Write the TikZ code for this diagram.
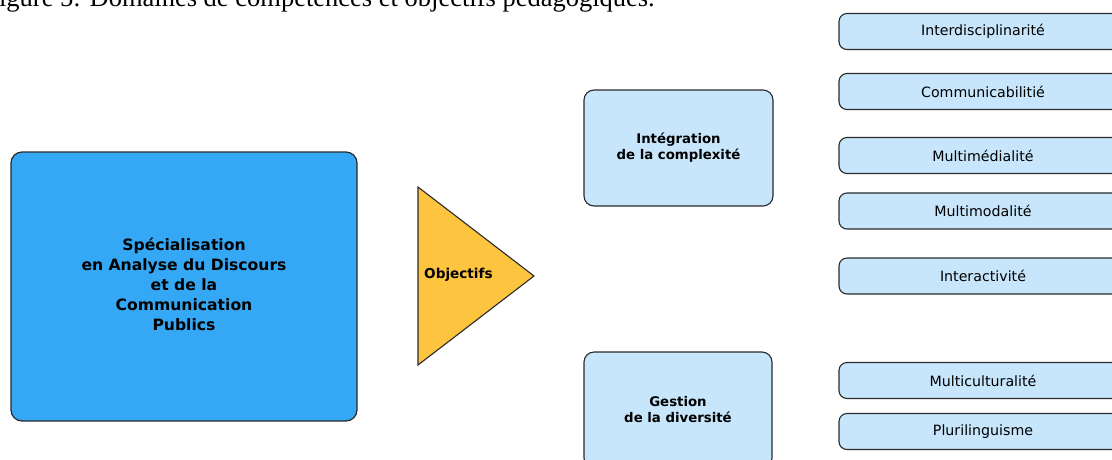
\documentclass[tikz,border=0pt]{standalone}
\usepackage{fontspec}
\setmainfont{DejaVu Sans}
\newfontfamily\capfont{Liberation Serif}
\usetikzlibrary{shapes.geometric}
\definecolor{bigblue}{HTML}{35A8F5}
\definecolor{lightblue}{HTML}{C7E6FB}
\definecolor{tri}{HTML}{FDC43F}
\definecolor{edge}{HTML}{2A2A2A}
\tikzset{
  bigbox/.style={draw=edge, line width=1.2pt, fill=bigblue, rounded corners=11pt, inner sep=0pt, align=center,
     font=\fontsize{15.6}{20}\selectfont\bfseries},
  midbox/.style={draw=edge, line width=1.1pt, fill=lightblue, rounded corners=10pt, inner sep=0pt, align=center,
     font=\fontsize{13.3}{16}\selectfont\bfseries},
  itembox/.style={draw=edge, line width=1.1pt, fill=lightblue, rounded corners=8pt, inner sep=0pt,
     minimum width=288pt, minimum height=36pt, font=\fontsize{14.2}{16}\selectfont},
  trishape/.style={draw=edge, line width=1.1pt, fill=tri},
}
\begin{document}
\begin{tikzpicture}[x=1pt,y=-1pt]
\useasboundingbox (0,0) rectangle (1112,459);
\clip (0,0) rectangle (1112,459);
\node[anchor=base east, font=\capfont\fontsize{26.5}{30}\selectfont, inner sep=0pt] (cap) at (655,6) {Figure 5: Domaines de compétences et objectifs pédagogiques.};
\node[bigbox, minimum width=346pt, minimum height=269pt] (spec) at (184,286.5)
  {\raisebox{2pt}{\begin{tabular}{@{}c@{}}Spécialisation\\en Analyse du Discours\\et de la\\Communication\\Publics\end{tabular}}};
\draw[trishape] (418,187) -- (534,276) -- (418,365) -- cycle;
\node[anchor=west, inner sep=0pt, font=\fontsize{13.6}{16}\selectfont\bfseries] (obj) at (424,274.5) {Objectifs};
\node[midbox, minimum width=189pt, minimum height=116pt] (integ) at (678.5,148)
  {Intégration\\de la complexité};
\node[midbox, minimum width=188pt, minimum height=116pt] (gest) at (678,410)
  {Gestion\\de la diversité};
\node[itembox] (i1) at (983,31.5) {Interdisciplinarité};
\node[itembox] (i2) at (983,91.5) {Communicabilitié};
\node[itembox] (i3) at (983,155.5) {Multimédialité};
\node[itembox] (i4) at (983,211) {Multimodalité};
\node[itembox] (i5) at (983,276) {Interactivité};
\node[itembox] (i6) at (983,380.5) {Multiculturalité};
\node[itembox] (i7) at (983,431.5) {Plurilinguisme};
\end{tikzpicture}
\end{document}
